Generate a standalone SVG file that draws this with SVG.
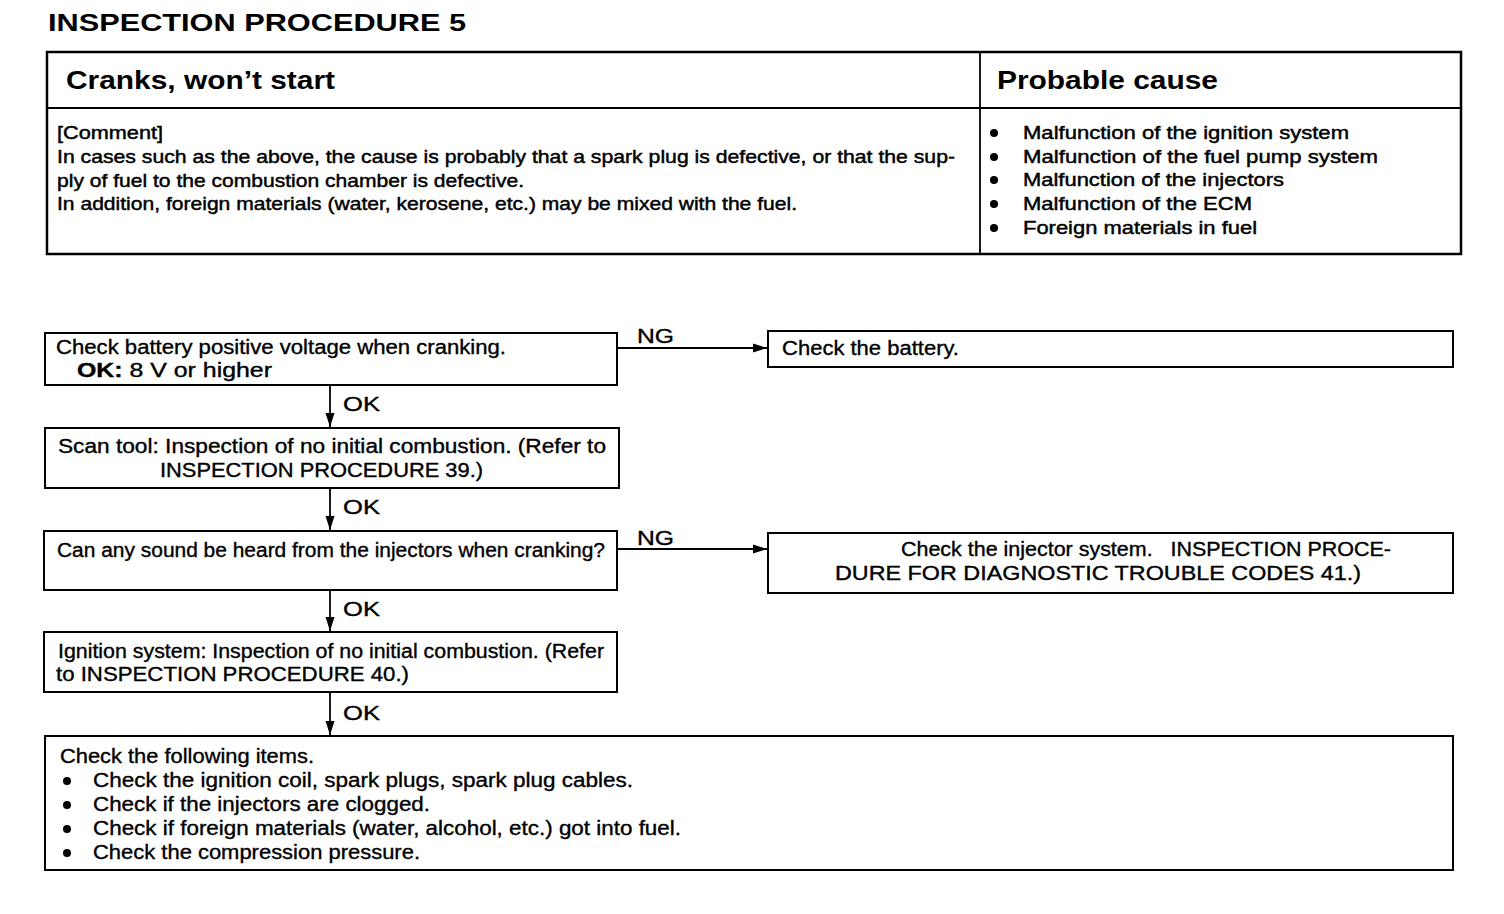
<svg xmlns="http://www.w3.org/2000/svg" width="1504" height="914" viewBox="0 0 1504 914">
<style>
text{font-family:"Liberation Sans",Arial,sans-serif;fill:#000}
.t{font-size:19.5px;stroke:#000;stroke-width:0.35}
.c{font-size:18.5px;stroke:#000;stroke-width:0.45}
.h{font-size:25px;font-weight:bold}
.b{font-weight:bold}
.box{fill:#fff;stroke:#000;stroke-width:2}
.ln{stroke:#000;stroke-width:1.8;fill:none}
</style>
<defs>
<marker id="ah" viewBox="0 0 14 10" refX="14" refY="5" markerWidth="14" markerHeight="10" markerUnits="userSpaceOnUse" orient="auto">
<path d="M0,0.5 L14,5 L0,9.5 Z" fill="#000"/>
</marker>
</defs>
<rect width="1504" height="914" fill="#fff"/>
<text x="48" y="31" font-size="23" font-weight="bold" textLength="418" lengthAdjust="spacingAndGlyphs">INSPECTION  PROCEDURE  5</text>

<g id="header-table">
<rect x="47" y="52" width="1414" height="202" fill="#fff" stroke="#000" stroke-width="2.5"/>
<line x1="47" y1="108" x2="1461" y2="108" class="ln" stroke-width="2"/>
<line x1="980" y1="52" x2="980" y2="254" class="ln" stroke-width="2"/>
<text x="66" y="89" class="h" textLength="269" lengthAdjust="spacingAndGlyphs">Cranks, won’t start</text>
<text x="997" y="89" class="h" textLength="221" lengthAdjust="spacingAndGlyphs">Probable cause</text>
<text class="c" x="57" y="139" textLength="106" lengthAdjust="spacingAndGlyphs">[Comment]</text>
<text class="c" x="57" y="163" textLength="898" lengthAdjust="spacingAndGlyphs">In cases such as the above, the cause is probably that a spark plug is defective, or that the sup-</text>
<text class="c" x="57" y="187" textLength="467" lengthAdjust="spacingAndGlyphs">ply of fuel to the combustion chamber is defective.</text>
<text class="c" x="57" y="210" textLength="740" lengthAdjust="spacingAndGlyphs">In addition, foreign materials (water, kerosene, etc.) may be mixed with the fuel.</text>
<g fill="#000">
<circle cx="994" cy="133" r="4"/><circle cx="994" cy="157" r="4"/><circle cx="994" cy="180" r="4"/><circle cx="994" cy="204" r="4"/><circle cx="994" cy="228" r="4"/>
</g>
<text class="c" x="1023" y="139" textLength="326" lengthAdjust="spacingAndGlyphs">Malfunction of the ignition system</text>
<text class="c" x="1023" y="163" textLength="355" lengthAdjust="spacingAndGlyphs">Malfunction of the fuel pump system</text>
<text class="c" x="1023" y="186" textLength="261" lengthAdjust="spacingAndGlyphs">Malfunction of the injectors</text>
<text class="c" x="1023" y="210" textLength="229" lengthAdjust="spacingAndGlyphs">Malfunction of the ECM</text>
<text class="c" x="1023" y="234" textLength="234" lengthAdjust="spacingAndGlyphs">Foreign materials in fuel</text>
</g>

<g id="connectors">
<line x1="617" y1="348" x2="767" y2="348" class="ln" marker-end="url(#ah)"/>
<text class="t" x="637" y="343" textLength="37" lengthAdjust="spacingAndGlyphs">NG</text>
<line x1="330" y1="385" x2="330" y2="427" class="ln" marker-end="url(#ah)"/>
<text class="t" x="343" y="411" textLength="37" lengthAdjust="spacingAndGlyphs">OK</text>
<line x1="330" y1="488" x2="330" y2="530" class="ln" marker-end="url(#ah)"/>
<text class="t" x="343" y="514" textLength="37" lengthAdjust="spacingAndGlyphs">OK</text>
<line x1="617" y1="549" x2="767" y2="549" class="ln" marker-end="url(#ah)"/>
<text class="t" x="637" y="545" textLength="37" lengthAdjust="spacingAndGlyphs">NG</text>
<line x1="330" y1="590" x2="330" y2="631" class="ln" marker-end="url(#ah)"/>
<text class="t" x="343" y="616" textLength="37" lengthAdjust="spacingAndGlyphs">OK</text>
<line x1="330" y1="692" x2="330" y2="735" class="ln" marker-end="url(#ah)"/>
<text class="t" x="343" y="720" textLength="37" lengthAdjust="spacingAndGlyphs">OK</text>
</g>

<g id="n1">
<rect class="box" x="45" y="333" width="572" height="52"/>
<text class="t" x="56" y="354" textLength="450" lengthAdjust="spacingAndGlyphs">Check battery positive voltage when cranking.</text>
<text class="t" x="77" y="377" textLength="195" lengthAdjust="spacingAndGlyphs"><tspan class="b">OK:</tspan> 8 V or higher</text>
</g>
<g id="n-battery">
<rect class="box" x="768" y="331" width="685" height="36"/>
<text class="t" x="782" y="355" textLength="177" lengthAdjust="spacingAndGlyphs">Check the battery.</text>
</g>
<g id="n2">
<rect class="box" x="45" y="428" width="574" height="60"/>
<text class="t" x="58" y="453" textLength="548" lengthAdjust="spacingAndGlyphs">Scan tool: Inspection of no initial combustion. (Refer to</text>
<text class="t" x="160" y="477" textLength="323" lengthAdjust="spacingAndGlyphs">INSPECTION PROCEDURE 39.)</text>
</g>
<g id="n3">
<rect class="box" x="44" y="531" width="573" height="59"/>
<text class="t" x="57" y="557" textLength="548" lengthAdjust="spacingAndGlyphs">Can any sound be heard from the injectors when cranking?</text>
</g>
<g id="n-injector">
<rect class="box" x="768" y="533" width="685" height="60"/>
<text class="t" x="901" y="556" textLength="490" lengthAdjust="spacingAndGlyphs" xml:space="preserve">Check the injector system.   INSPECTION PROCE-</text>
<text class="t" x="835" y="580" textLength="526" lengthAdjust="spacingAndGlyphs">DURE FOR DIAGNOSTIC TROUBLE CODES 41.)</text>
</g>
<g id="n4">
<rect class="box" x="44" y="632" width="573" height="60"/>
<text class="t" x="58" y="658" textLength="546" lengthAdjust="spacingAndGlyphs">Ignition system: Inspection of no initial combustion. (Refer</text>
<text class="t" x="56" y="681" textLength="353" lengthAdjust="spacingAndGlyphs">to INSPECTION PROCEDURE 40.)</text>
</g>
<g id="n5">
<rect class="box" x="45" y="736" width="1408" height="134"/>
<text class="t" x="60" y="763" textLength="254" lengthAdjust="spacingAndGlyphs">Check the following items.</text>
<g fill="#000">
<circle cx="67" cy="781" r="4"/><circle cx="67" cy="805" r="4"/><circle cx="67" cy="829" r="4"/><circle cx="67" cy="853" r="4"/>
</g>
<text class="t" x="93" y="787" textLength="540" lengthAdjust="spacingAndGlyphs">Check the ignition coil, spark plugs, spark plug cables.</text>
<text class="t" x="93" y="811" textLength="337" lengthAdjust="spacingAndGlyphs">Check if the injectors are clogged.</text>
<text class="t" x="93" y="835" textLength="588" lengthAdjust="spacingAndGlyphs">Check if foreign materials (water, alcohol, etc.) got into fuel.</text>
<text class="t" x="93" y="859" textLength="327" lengthAdjust="spacingAndGlyphs">Check the compression pressure.</text>
</g>
</svg>
